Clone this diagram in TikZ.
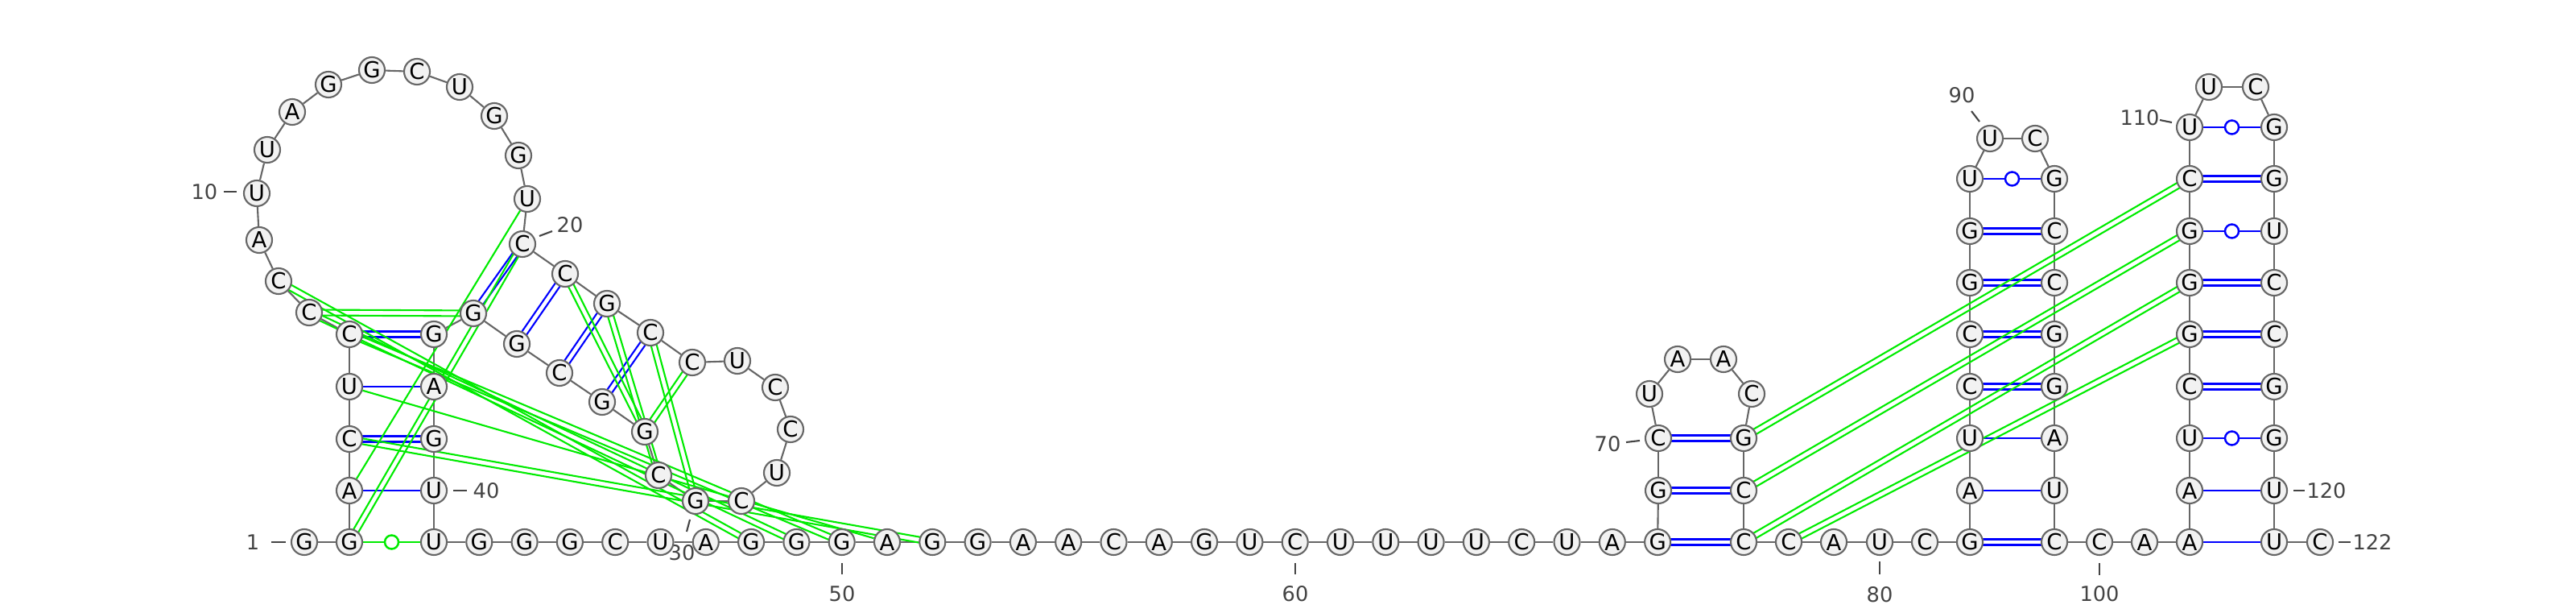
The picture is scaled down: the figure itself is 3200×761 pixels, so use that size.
\documentclass[tikz,border=0pt]{standalone}
\usepackage{fontspec}
\setmainfont{DejaVu Sans}
\usetikzlibrary{calc,backgrounds}

\definecolor{bbgray}{HTML}{666666}
\definecolor{ntfill}{HTML}{F2F2F2}
\definecolor{lblgray}{HTML}{444444}
\definecolor{pairblue}{RGB}{0,0,255}
\definecolor{pairgreen}{RGB}{0,235,0}

\tikzset{
  nt/.style={circle, draw=bbgray, fill=ntfill, line width=0.6pt, minimum size=0.32cm,
    inner sep=0pt, font=\fontsize{7.8}{9}\selectfont},
  bb/.style={bbgray, line width=0.6pt},
  lbl/.style={text=lblgray, inner sep=0pt, font=\fontsize{7.3}{9}\selectfont},
  tick/.style={lblgray, line width=0.6pt},
  gu/.style={circle, fill=white, line width=0.7pt, minimum size=0.17cm, inner sep=0pt},
}
% base pairs: two strokes, one stroke, or a stroke with a ring
\newcommand{\dpair}[3]{%
  \draw[#1, line width=0.6pt] ($(#2)!0.035cm!90:(#3)$) -- ($(#3)!0.035cm!-90:(#2)$);
  \draw[#1, line width=0.6pt] ($(#2)!0.035cm!-90:(#3)$) -- ($(#3)!0.035cm!90:(#2)$);}
\newcommand{\spair}[3]{\draw[#1, line width=0.6pt] (#2) -- (#3);}
\newcommand{\gupair}[3]{\draw[#1, line width=0.6pt] (#2) -- node[gu, draw=#1] {} (#3);}

\begin{document}
\begin{tikzpicture}[x=0.01cm, y=-0.01cm]
  \useasboundingbox (0,0) rectangle (3200,761);

  % numbering
  \node[lbl] (l1) at (314,673) {1};     \draw[tick] (337,673) -- (355,673);
  \node[lbl] (l10) at (254,238) {10};   \draw[tick] (278,238) -- (294,238);
  \node[lbl] (l20) at (708,279) {20};   \draw[tick] (670,293) -- (686,287);
  \node[lbl] (l30) at (847,686) {30};   \draw[tick] (857,645) -- (853,660);
  \node[lbl] (l40) at (604,609) {40};   \draw[tick] (563,609) -- (580,609);
  \node[lbl] (l50) at (1046,737) {50};  \draw[tick] (1046,699) -- (1046,713);
  \node[lbl] (l60) at (1609,737) {60};  \draw[tick] (1609,699) -- (1609,713);
  \node[lbl] (l70) at (1997,551) {70};  \draw[tick] (2020,549) -- (2037,547);
  \node[lbl] (l80) at (2335,738) {80};  \draw[tick] (2335,697) -- (2335,713);
  \node[lbl] (l90) at (2437,118) {90};  \draw[tick] (2449,138) -- (2459,151);
  \node[lbl] (l100) at (2608,737) {100}; \draw[tick] (2608,699) -- (2608,714);
  \node[lbl] (l110) at (2658,146) {110}; \draw[tick] (2683,149) -- (2698,152);
  \node[lbl] (l120) at (2890,609) {120}; \draw[tick] (2849,609) -- (2863,609);
  \node[lbl] (l122) at (2947,673) {122}; \draw[tick] (2905,673) -- (2920,673);

  % nucleotides
  \foreach \i/\x/\y/\b in {1/378/673/G, 2/434/673/G, 3/434/609/A, 4/434/545/C, 5/434/480/U,
      6/434/415/C, 7/384/388/C, 8/346/349/C, 9/322/298/A, 10/319/240/U, 11/332/186/U,
      12/363/139/A, 13/408/105/G, 14/462/87/G, 15/518/89/C, 16/571/108/U, 17/614/144/G,
      18/644/193/G, 19/655/247/U, 20/649/303/C, 21/702/340/C, 22/754/377/G, 23/808/413/C,
      24/860/450/C, 25/916/448/U, 26/963/481/C, 27/982/533/C, 28/965/587/U, 29/921/622/C,
      30/864/622/G, 31/818/590/C, 32/801/536/G, 33/748/499/G, 34/695/463/C, 35/642/427/G,
      36/588/389/G, 37/539/415/G, 38/539/480/A, 39/539/545/G, 40/539/609/U}
    \node[nt] (n\i) at (\x,\y) {\b};
  \foreach \i/\b in {41/U, 42/G, 43/G, 44/G, 45/C, 46/U, 47/A, 48/G, 49/G, 50/G, 51/A,
      52/G, 53/G, 54/A, 55/A, 56/C, 57/A, 58/G, 59/U, 60/C, 61/U, 62/U, 63/U, 64/U,
      65/C, 66/U, 67/A, 68/G}
    \node[nt] (n\i) at ({539+(\i-41)*56.3},673) {\b};
  \foreach \i/\x/\y/\b in {69/2060/609/G, 70/2060/544/C, 71/2049/489/U, 72/2084/446/A,
      73/2141/446/A, 74/2176/489/C, 75/2166/544/G, 76/2166/609/C, 77/2166/673/C,
      78/2222/673/C, 79/2278/673/A, 80/2335/673/U, 81/2391/673/C, 82/2447/673/G,
      83/2447/609/A, 84/2447/544/U, 85/2447/480/C, 86/2447/415/C, 87/2447/351/G,
      88/2447/287/G, 89/2447/222/U, 90/2472/172/U, 91/2528/172/C, 92/2552/222/G,
      93/2552/287/C, 94/2552/351/C, 95/2552/415/G, 96/2552/480/G, 97/2552/544/A,
      98/2552/609/U, 99/2552/673/C, 100/2608/673/C, 101/2664/673/A, 102/2720/673/A,
      103/2720/609/A, 104/2720/544/U, 105/2720/480/C, 106/2720/415/G, 107/2720/351/G,
      108/2720/287/G, 109/2720/222/C, 110/2720/158/U, 111/2744/108/U, 112/2802/108/C,
      113/2825/158/G, 114/2825/222/G, 115/2825/287/U, 116/2825/351/C, 117/2825/415/C,
      118/2825/480/G, 119/2825/544/G, 120/2825/609/U, 121/2825/673/U, 122/2882/673/C}
    \node[nt] (n\i) at (\x,\y) {\b};

  \begin{pgfonlayer}{background}
    % backbone
    \foreach \i in {1,...,121} {
      \pgfmathtruncatemacro{\j}{\i+1}
      \draw[bb] (n\i) -- (n\j);
    }
    % blue pairs
    \foreach \a/\b in {4/39, 6/37, 20/36, 21/35, 22/34, 23/33, 68/77, 69/76, 70/75,
        82/99, 85/96, 86/95, 87/94, 88/93, 105/118, 106/117, 107/116, 109/114}
      \dpair{pairblue}{n\a}{n\b};
    \foreach \a/\b in {3/40, 5/38, 83/98, 84/97, 102/121, 103/120}
      \spair{pairblue}{n\a}{n\b};
    \foreach \a/\b in {89/92, 104/119, 108/115, 110/113}
      \gupair{pairblue}{n\a}{n\b};
    % green pairs
    \foreach \a/\b in {2/20, 4/52, 6/50, 7/49, 8/48, 7/36, 21/32, 22/31, 23/30, 24/32,
        75/109, 76/108, 77/107, 78/106}
      \dpair{pairgreen}{n\a}{n\b};
    \foreach \a/\b in {3/19, 5/51}
      \spair{pairgreen}{n\a}{n\b};
    \gupair{pairgreen}{n2}{n41};
  \end{pgfonlayer}
\end{tikzpicture}
\end{document}
